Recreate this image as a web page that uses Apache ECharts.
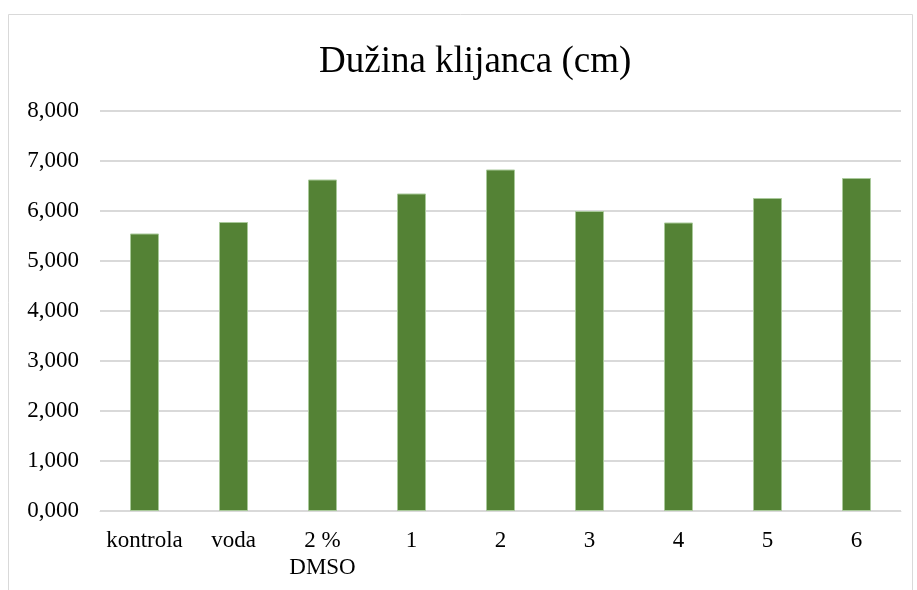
<!DOCTYPE html>
<html>
<head>
<meta charset="utf-8">
<script src="https://cdn.jsdelivr.net/npm/echarts@6/dist/echarts.min.js"></script>
<style>
  html, body { margin: 0; padding: 0; background: #fff; }
  #chart { width: 917px; height: 590px; }
</style>
</head>
<body>
<div id="chart"></div>
<script>
var categories = ['kontrola', 'voda', '2 %\nDMSO', '1', '2', '3', '4', '5', '6'];
var lengths = [5.55, 5.78, 6.63, 6.35, 6.83, 6.00, 5.77, 6.26, 6.66];
var titleText = 'Dužina klijanca (cm)';

var myChart = echarts.init(document.getElementById('chart'));

var option = {
    backgroundColor: '#fff',
    animation: false,
    title: {
        text: titleText,
        left: 314,
        top: 39,
        textStyle: {
            fontFamily: 'Liberation Serif',
            fontWeight: 'normal',
            fontSize: 37,
            color: '#000'
        }
    },
    graphic: [{
        type: 'rect',
        shape: { x: 8.5, y: 14.5, width: 904, height: 600 },
        style: { fill: 'none', stroke: '#d9d9d9', lineWidth: 1 },
        silent: true
    }],
    grid: {
        left: 100,
        right: 16,
        top: 111,
        bottom: 79
    },
    xAxis: {
        type: 'category',
        data: categories,
        axisLine: { lineStyle: { color: '#d9d9d9', width: 1 } },
        axisTick: { show: false },
        axisLabel: {
            fontFamily: 'Liberation Serif',
            fontSize: 23,
            color: '#000',
            margin: 16,
            lineHeight: 27,
            interval: 0
        }
    },
    yAxis: {
        type: 'value',
        min: 0,
        max: 8,
        interval: 1,
        axisLine: { show: false },
        axisTick: { show: false },
        splitLine: { lineStyle: { color: '#d9d9d9', width: 2 } },
        axisLabel: {
            fontFamily: 'Liberation Serif',
            fontSize: 23,
            color: '#000',
            margin: 21,
            formatter: function (v) {
                return v.toFixed(3).replace('.', ',');
            }
        }
    },
    series: [{
        type: 'bar',
        data: lengths,
        barWidth: 29,
        itemStyle: {
            color: '#548235',
            borderColor: '#a9c99a',
            borderWidth: 1
        }
    }]
};

myChart.setOption(option);
</script>
</body>
</html>
